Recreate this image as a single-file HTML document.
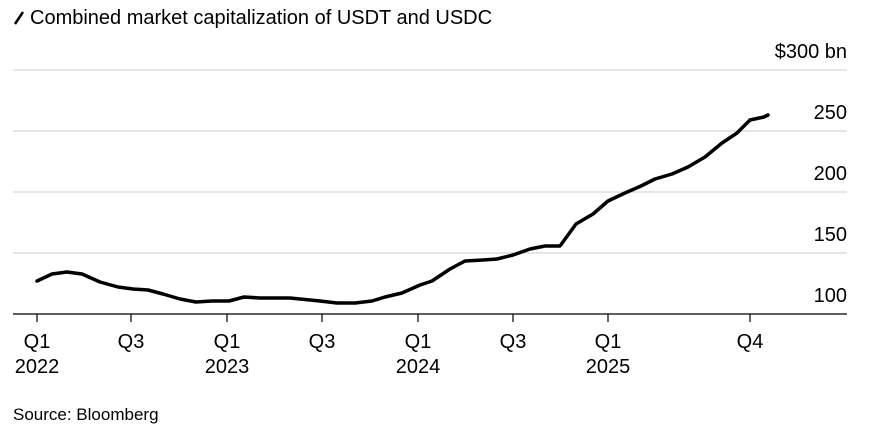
<!DOCTYPE html>
<html><head><meta charset="utf-8"><style>
body{margin:0;background:#fff;width:870px;height:432px;overflow:hidden;font-family:"Liberation Sans",Arial,sans-serif}
</style></head><body>
<svg width="870" height="432" viewBox="0 0 870 432" xmlns="http://www.w3.org/2000/svg" font-family="Liberation Sans, Arial, sans-serif">
<line x1="15" y1="24" x2="23" y2="12" stroke="#000" stroke-width="2.5"/>
<text x="30" y="24" font-size="20" fill="#000">Combined market capitalization of USDT and USDC</text>
<g stroke="#ddd" stroke-width="1.5">
<line x1="13" y1="70" x2="847" y2="70"/>
<line x1="13" y1="131" x2="847" y2="131"/>
<line x1="13" y1="192" x2="847" y2="192"/>
<line x1="13" y1="253" x2="847" y2="253"/>
</g>
<g font-size="20" fill="#000" text-anchor="end">
<text x="847" y="58">$300 bn</text>
<text x="847" y="119">250</text>
<text x="847" y="180">200</text>
<text x="847" y="241">150</text>
<text x="847" y="302">100</text>
</g>
<line x1="13" y1="314" x2="847" y2="314" stroke="#000" stroke-width="1.2"/>
<g stroke="#000" stroke-width="1.2">
<line x1="37" y1="314" x2="37" y2="322"/><line x1="131" y1="314" x2="131" y2="322"/>
<line x1="227" y1="314" x2="227" y2="322"/><line x1="322" y1="314" x2="322" y2="322"/>
<line x1="418" y1="314" x2="418" y2="322"/><line x1="513" y1="314" x2="513" y2="322"/>
<line x1="608" y1="314" x2="608" y2="322"/><line x1="750" y1="314" x2="750" y2="322"/>
</g>
<g font-size="20" fill="#000" text-anchor="middle">
<text x="37" y="348">Q1</text><text x="37" y="373">2022</text>
<text x="131" y="348">Q3</text>
<text x="227" y="348">Q1</text><text x="227" y="373">2023</text>
<text x="322" y="348">Q3</text>
<text x="418" y="348">Q1</text><text x="418" y="373">2024</text>
<text x="513" y="348">Q3</text>
<text x="608" y="348">Q1</text><text x="608" y="373">2025</text>
<text x="750" y="348">Q4</text>
</g>
<polyline fill="none" stroke="#000" stroke-width="3.5" stroke-linejoin="round" stroke-linecap="round"
points="37,281 52,274 67,272 82,274 100,282 118,287 133,289 148,290 163,294 180,299 196,302 212,301 229,301 244,297 260,298 290,298 320,301 337,303 355,303 372,301 385,297 402,293 420,285 432,281 450,269 465,261 483,260 497,259 513,255 530,249 545,246 560,246 576,224 593,214 608,201 625,193 641,186 655,179 672,174 688,167 705,157 722,143 737,133 750,120 764,117 768,115"/>
<text x="13" y="420" font-size="17" fill="#000">Source: Bloomberg</text>
</svg>
</body></html>
